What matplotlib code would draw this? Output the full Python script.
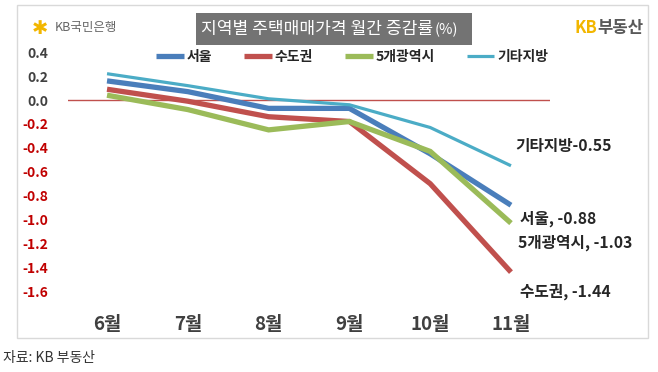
import matplotlib
matplotlib.use("Agg")
import matplotlib.pyplot as plt
from matplotlib.patches import Rectangle

plt.rcParams['font.family'] = ['Noto Sans CJK KR', 'DejaVu Sans']

months = ["6월", "7월", "8월", "9월", "10월", "11월"]
series_names = ["서울", "수도권", "5개광역시", "기타지방"]
seoul = [0.16, 0.07, -0.07, -0.07, -0.45, -0.88]
capital = [0.09, -0.01, -0.14, -0.18, -0.70, -1.44]
metro5 = [0.04, -0.08, -0.25, -0.18, -0.43, -1.03]
others = [0.22, 0.12, 0.01, -0.04, -0.23, -0.55]
yticks = [0.4, 0.2, 0.0, -0.2, -0.4, -0.6, -0.8, -1.0, -1.2, -1.4, -1.6]

colors = ["#4A7EBB", "#C0504D", "#9BBB59", "#4BACC6"]
widths = [3.8, 3.8, 3.8, 2.3]

W, H = 658, 372
fig = plt.figure(figsize=(W / 100, H / 100), dpi=100)
fig.patch.set_facecolor("white")

def fx(px):
    return px / W

def fy(py):
    return 1 - py / H

# frame
fig.patches.append(Rectangle((fx(17), fy(338)), fx(648) - fx(17), fy(5) - fy(338),
                             transform=fig.transFigure, fill=False,
                             edgecolor="#d9d9d9", linewidth=1.0))

# axes
ax_l, ax_r, ax_t, ax_b = 68, 550, 40, 305
ax = fig.add_axes([fx(ax_l), fy(ax_b), fx(ax_r) - fx(ax_l), fy(ax_t) - fy(ax_b)])
ax.set_facecolor("none")
x = list(range(len(months)))
data = [seoul, capital, metro5, others]
lines = []
for name, vals, c, lw in zip(series_names, data, colors, widths):
    ln, = ax.plot(x, vals, color=c, linewidth=lw, label=name,
                  solid_joinstyle="miter", solid_capstyle="butt")
    lines.append(ln)
ax.axhline(0, color="#C0504D", linewidth=1.0, zorder=0)
ax.set_xlim(-0.483, 5.483)
ax.set_ylim(-1.715, 0.502)
ax.set_xticks(x)
ax.set_xticklabels(months, fontsize=13.5, fontweight="bold", color="#404040")
ax.set_yticks(yticks)
ax.set_yticklabels([f"{v:.1f}" for v in yticks], fontsize=10, fontweight="bold")
for lab, v in zip(ax.get_yticklabels(), yticks):
    lab.set_color("#C00000" if v < 0 else "#404040")
ax.tick_params(axis="both", length=0)
ax.tick_params(axis="y", pad=14)
ax.tick_params(axis="x", pad=7)
for s in ax.spines.values():
    s.set_visible(False)

# legend
leg = fig.legend(handles=lines, loc="center left", bbox_to_anchor=(fx(156), fy(57)),
                 ncol=4, frameon=False, handlelength=2.0, handletextpad=0.2,
                 columnspacing=2.3, borderpad=0, borderaxespad=0,
                 prop={"size": 10, "weight": "bold"})
for t in leg.get_texts():
    t.set_color("#262626")

# title box
fig.patches.append(Rectangle((fx(196), fy(45)), fx(472) - fx(196), fy(13) - fy(45),
                             transform=fig.transFigure, facecolor="#737373",
                             edgecolor="none"))
t_main = fig.text(fx(201), fy(29), "지역별 주택매매가격 월간 증감률", fontsize=12.3,
                  color="white", va="center", ha="left")
fig.canvas.draw()
bb = t_main.get_window_extent(renderer=fig.canvas.get_renderer())
fig.text(bb.x1 / W + fx(1), fy(30), "(%)", fontsize=10.5, color="white",
         va="center", ha="left")

# logos
fig.text(fx(32), fy(28), "✱", family="DejaVu Sans", fontsize=14, color="#F2B600",
         va="center", ha="left")
fig.text(fx(55), fy(28), "KB국민은행", fontsize=9, color="#666666", va="center", ha="left")
fig.text(fx(575), fy(28), "KB", fontsize=12, fontweight="bold", color="#F2B600",
         va="center", ha="left")
fig.text(fx(597), fy(28), "부동산", fontsize=12, fontweight="bold", color="#595959",
         va="center", ha="left")

# end labels
end_style = dict(fontsize=11.3, fontweight="bold", color="#262626", va="center", ha="left")
fig.text(fx(515), fy(146), f"{series_names[3]}{others[-1]:.2f}", **end_style)
fig.text(fx(520), fy(219), f"{series_names[0]}, {seoul[-1]:.2f}", **end_style)
fig.text(fx(518), fy(243), f"{series_names[2]}, {metro5[-1]:.2f}", **end_style)
fig.text(fx(520), fy(292), f"{series_names[1]}, {capital[-1]:.2f}", **end_style)

# source
fig.text(fx(3), fy(358), "자료: KB 부동산", fontsize=10, color="#333333", va="center", ha="left")

fig.savefig("out.png", dpi=100)
